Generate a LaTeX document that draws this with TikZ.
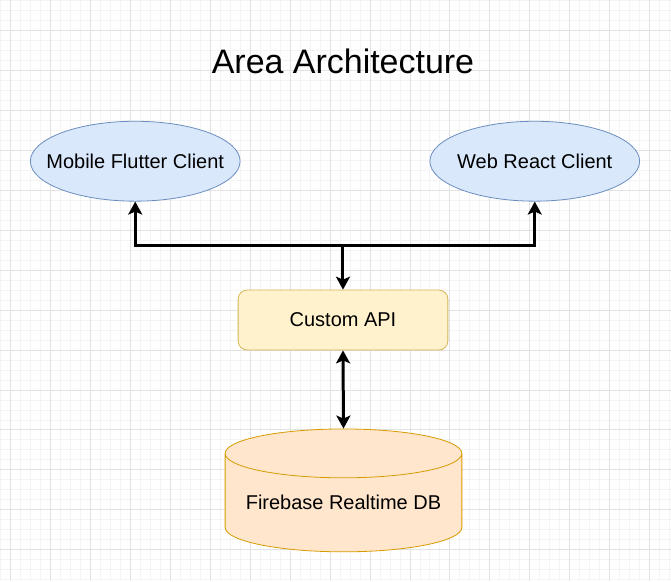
\documentclass[tikz,border=0pt]{standalone}
\usepackage{fontspec}
\setmainfont{Liberation Sans}
\usepackage{xcolor}
\usetikzlibrary{shapes.geometric,arrows.meta,positioning}

\definecolor{clientfill}{HTML}{DAE8FC}
\definecolor{clientline}{HTML}{6C8EBF}
\definecolor{apifill}{HTML}{FFF2CC}
\definecolor{apiline}{HTML}{D6B656}
\definecolor{dbfill}{HTML}{FFE6CC}
\definecolor{dbline}{HTML}{D79B00}
\definecolor{minorgrid}{HTML}{F4F4F4}
\definecolor{majorgrid}{HTML}{E2E2E2}

\begin{document}
\begin{tikzpicture}[
    x=1pt, y=-1pt,
    client/.style={ellipse, draw=clientline, fill=clientfill, line width=0.8pt, minimum width=210pt, minimum height=80pt, inner xsep=-20pt, inner ysep=0pt, font=\fontsize{20}{24}\selectfont},
    apibox/.style={rectangle, rounded corners=9pt, draw=apiline, fill=apifill, line width=0.8pt, minimum width=210pt, minimum height=60pt, inner sep=0pt, font=\fontsize{20}{24}\selectfont},
    dbstore/.style={cylinder, shape border rotate=90, aspect=0.25, draw=dbline, fill=dbfill, line width=0.8pt, minimum width=237pt, minimum height=123pt, inner sep=0pt, font=\fontsize{20}{24}\selectfont},
    arrow/.style={line width=3pt, -{Stealth[length=13pt, width=14pt, inset=3pt]}},
    biarrow/.style={line width=3pt, {Stealth[length=13pt, width=14pt, inset=3pt]}-{Stealth[length=13pt, width=14pt, inset=3pt]}}
]
    % background grid
    \fill[white] (0,0) rectangle (671,581);
    \foreach \g in {0,10,...,670} \draw[minorgrid, line width=0.8pt] (\g,0) -- (\g,581);
    \foreach \g in {0,10,...,580} \draw[minorgrid, line width=0.8pt] (0,\g) -- (671,\g);
    \foreach \g in {10,50,...,650} \draw[majorgrid, line width=0.8pt] (\g,0) -- (\g,581);
    \foreach \g in {30,70,...,550} \draw[majorgrid, line width=0.8pt] (0,\g) -- (671,\g);
    \useasboundingbox (0,0) rectangle (671,581);

    \node[font=\fontsize{34}{40}\selectfont] (title) at (343,61) {Area Architecture};

    \node[client] (mobile) at (135,161) {Mobile Flutter Client};
    \node[client] (web) at (535,161) {Web React Client};
    \node[apibox] (api) at (343,320) {Custom API};
    \node[dbstore] (db) at (343.5,503) {Firebase Realtime DB};

    \coordinate (hub) at (343,245);

    \draw[biarrow] (mobile.south) |- (hub) -| (web.south);
    \draw[arrow] (hub) -- (api.north);
    \draw[biarrow] (api.south) -- (db.top);
\end{tikzpicture}
\end{document}
